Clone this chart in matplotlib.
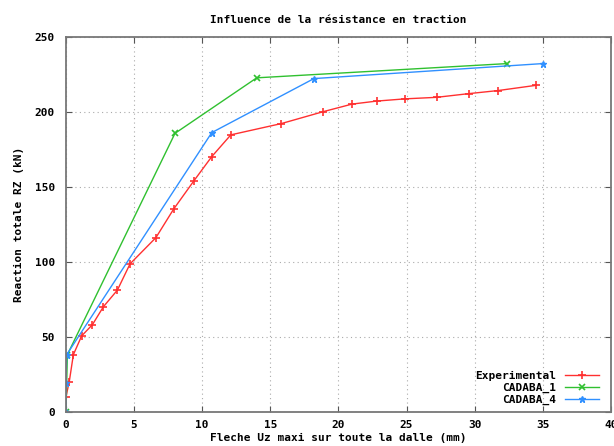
import matplotlib
matplotlib.use("Agg")
import matplotlib.pyplot as plt

# Experimental curve
exp_x = [0, 0, 0.24, 0.54, 1.15, 1.94, 2.75, 3.77, 4.7, 6.6, 7.9, 9.4, 10.7, 12.1,
         15.8, 18.9, 21.0, 22.8, 24.9, 27.2, 29.6, 31.7, 34.5]
exp_y = [0, 10, 20, 38, 50.5, 58, 70, 81, 98.5, 116, 135, 154, 170, 184.5,
         192, 200, 205, 207, 208.5, 209.5, 212, 214, 217.5]

# CADABA_1
c1_x = [0, 0.1, 8.0, 14.0, 32.4]
c1_y = [0, 38, 185.5, 222.5, 232]

# CADABA_4
c4_x = [0, 0, 0.05, 10.7, 18.2, 35.0]
c4_y = [0, 19, 38, 186, 222, 232]

FONT = dict(family="DejaVu Sans Mono", weight="bold", size=8)

fig = plt.figure(figsize=(6.14, 4.46), dpi=100)
ax = fig.add_axes([0.1075, 0.077, 0.8875, 0.841])

ax.plot(exp_x, exp_y, color="#ff3030", marker="+", markersize=6, mew=1.2, lw=1, label="Experimental")
ax.plot(c1_x, c1_y, color="#30c030", marker="x", markersize=5, mew=1.2, lw=1, label="CADABA_1")
ax.plot(c4_x, c4_y, color="#3090ff", marker="*", markersize=5, lw=1, label="CADABA_4")

ax.set_xlim(0, 40)
ax.set_ylim(0, 250)
ax.set_xticks(range(0, 41, 5))
ax.set_yticks(range(0, 251, 50))
ax.grid(True, color="#aaaaaa", linestyle=(0, (1, 3)), linewidth=0.8)
ax.tick_params(direction="in", top=True, right=True, length=4, color="#555555")
for s in ax.spines.values():
    s.set_color("#777777")
    s.set_linewidth(1.3)
for lab in ax.get_xticklabels() + ax.get_yticklabels():
    lab.set_fontproperties(FONT)
ax.tick_params(axis="x", pad=6)
ax.tick_params(axis="y", pad=8)

ax.set_title("Influence de la résistance en traction", fontdict=FONT, pad=10)
ax.set_xlabel("Fleche Uz maxi sur toute la dalle (mm)", fontdict=FONT, labelpad=2)
ax.set_ylabel("Reaction totale RZ (kN)", fontdict=FONT, labelpad=8)

leg = ax.legend(loc="lower right", markerfirst=False, frameon=False,
                prop=FONT, handlelength=3.0, labelspacing=0.15,
                borderaxespad=0.2, handletextpad=0.8,
                bbox_to_anchor=(0.99, 0.0))

fig.savefig("out.png", dpi=100)
